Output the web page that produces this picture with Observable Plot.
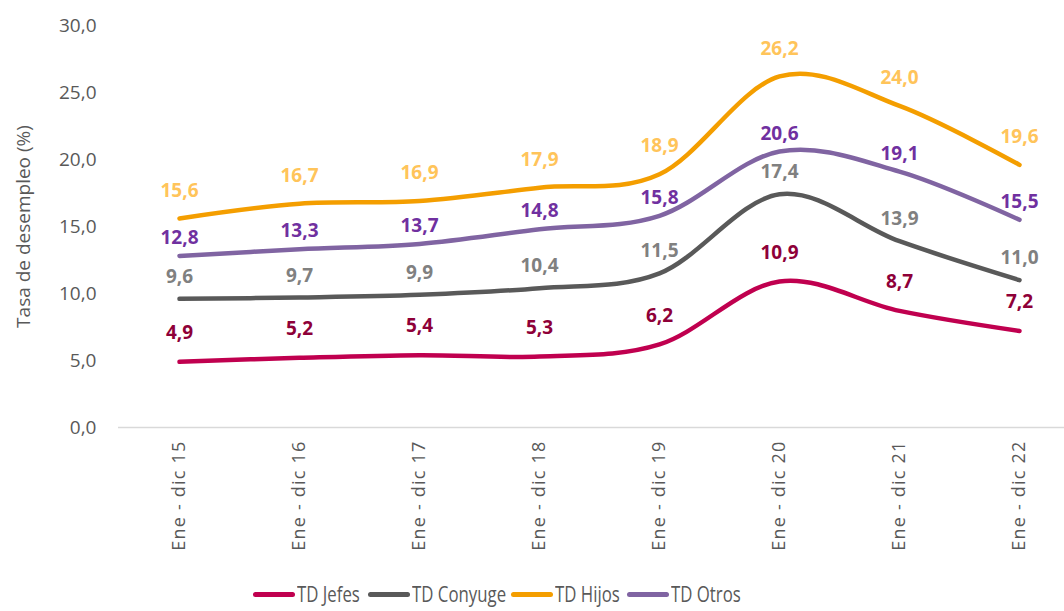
<!DOCTYPE html>
<html>
<head>
<meta charset="utf-8">
<script src="https://cdn.jsdelivr.net/npm/d3@7"></script>
<script src="https://cdn.jsdelivr.net/npm/@observablehq/plot@0.6"></script>
<style>
  html, body { margin: 0; padding: 0; background: #fff; }
  body { width: 1064px; height: 611px; overflow: hidden; font-family: "Open Sans", sans-serif; }
  #legend { position: relative; height: 30px; }
  .item { position: absolute; top: 3px; display: flex; align-items: center; height: 26px; color: #595959; }
  .item span { font-size: 21px; line-height: 26px; display: inline-block; transform: scaleX(0.8); transform-origin: left center; white-space: nowrap; }
  .swatch { width: 42px; height: 5px; border-radius: 3px; margin-right: 2px; }
</style>
</head>
<body>
<div id="chart"></div>
<div id="legend"></div>
<script>
const categories = ["Ene - dic 15", "Ene - dic 16", "Ene - dic 17", "Ene - dic 18", "Ene - dic 19", "Ene - dic 20", "Ene - dic 21", "Ene - dic 22"];
const jefes   = [4.9, 5.2, 5.4, 5.3, 6.2, 10.9, 8.7, 7.2];
const conyuge = [9.6, 9.7, 9.9, 10.4, 11.5, 17.4, 13.9, 11.0];
const hijos   = [15.6, 16.7, 16.9, 17.9, 18.9, 26.2, 24.0, 19.6];
const otros   = [12.8, 13.3, 13.7, 14.8, 15.8, 20.6, 19.1, 15.5];
const seriesNames = ["TD Jefes", "TD Conyuge", "TD Hijos", "TD Otros"];
const yTicks = [0, 5, 10, 15, 20, 25, 30];

const series = [
  {name: seriesNames[0], values: jefes,   line: "#C0004F", label: "#8E0038", dy: -29},
  {name: seriesNames[1], values: conyuge, line: "#595959", label: "#808080", dy: -22},
  {name: seriesNames[2], values: hijos,   line: "#F49E00", label: "#FFC45A", dy: -28},
  {name: seriesNames[3], values: otros,   line: "#8064A2", label: "#7030A0", dy: -18}
];

const fmt = v => d3.format(".1f")(v).replace(".", ",");

const marks = [
  Plot.ruleY([0], {stroke: "#d9d9d9", strokeWidth: 1.5}),
  Plot.axisY({ticks: yTicks, tickFormat: fmt, tickSize: 0, tickPadding: 22, fontSize: 19, color: "#595959",
    label: "Tasa de desempleo (%)", labelAnchor: "center", labelArrow: "none", labelOffset: 102}),
  Plot.axisX({tickSize: 0, tickPadding: 13, tickRotate: -90, fontSize: 18, color: "#595959", label: null})
];
for (const s of series) {
  const data = categories.map((c, i) => ({cat: c, v: s.values[i]}));
  marks.push(Plot.line(data, {x: "cat", y: "v", stroke: s.line, strokeWidth: 4.5, curve: "cardinal", strokeLinecap: "round"}));
}
for (const s of series) {
  const data = categories.map((c, i) => ({cat: c, v: s.values[i]}));
  marks.push(Plot.text(data, {x: "cat", y: "v", text: d => fmt(d.v), fill: s.label, dy: s.dy, fontSize: 19, fontWeight: "bold"}));
}

const plot = Plot.plot({
  width: 1064,
  height: 578,
  marginLeft: 118,
  marginRight: 0,
  marginTop: 25,
  marginBottom: 151,
  insetLeft: 59,
  insetRight: 44,
  style: {fontFamily: "'Open Sans', sans-serif", color: "#595959", background: "#fff"},
  x: {type: "point", domain: categories, padding: 0},
  y: {domain: [0, 30]},
  marks
});
document.getElementById("chart").appendChild(plot);
d3.select(plot).selectAll('g[aria-label="x-axis tick label"] text').style("letter-spacing", "1.2px");
d3.select(plot).selectAll('g[aria-label="y-axis label"] text').style("font-size", "19px");

const legend = document.getElementById("legend");
const lefts = [253, 368, 511, 627];
series.forEach((s, i) => {
  const it = document.createElement("div");
  it.className = "item";
  it.style.left = lefts[i] + "px";
  const sw = document.createElement("div");
  sw.className = "swatch";
  sw.style.background = s.line;
  const tx = document.createElement("span");
  tx.textContent = s.name;
  it.appendChild(sw); it.appendChild(tx);
  legend.appendChild(it);
});
</script>
</body>
</html>
